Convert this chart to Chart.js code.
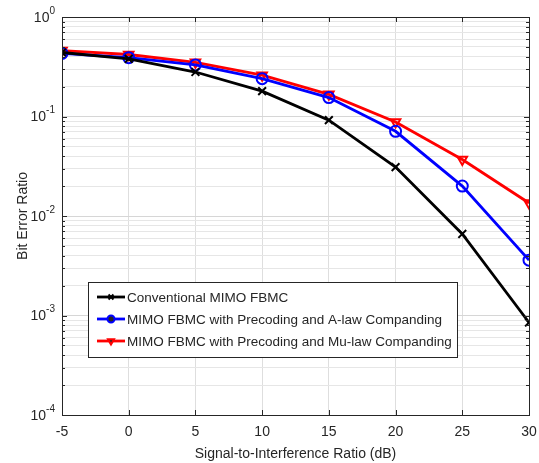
<!DOCTYPE html>
<html>
<head>
<meta charset="utf-8">
<script src="https://cdn.jsdelivr.net/npm/chart.js"></script>
<style>
    html, body { margin: 0; padding: 0; background: #fff; }
    canvas { display: block; }
</style>
</head>
<body>
<canvas id="berChart" width="539" height="463"></canvas>
<script>
var sirValues = [-5, 0, 5, 10, 15, 20, 25, 30];
var berConventional = [0.44, 0.38, 0.28, 0.18, 0.092, 0.031, 0.0066, 0.00085];
var berALaw = [0.43, 0.39, 0.33, 0.24, 0.155, 0.071, 0.020, 0.0036];
var berMuLaw = [0.46, 0.42, 0.35, 0.26, 0.167, 0.088, 0.037, 0.0135];
var yDecades = [-4, -3, -2, -1, 0];

var seriesNames = [
    'Conventional MIMO FBMC',
    'MIMO FBMC with Precoding and A-law Companding',
    'MIMO FBMC with Precoding and Mu-law Companding'
];

var FONT = '"Liberation Sans", Arial, sans-serif';
var AXIS_COLOR = '#262626';

function toPoints(values) {
    return values.map(function (v, i) { return { x: sirValues[i], y: v }; });
}

function isDecade(v) {
    var l = Math.log10(v);
    return Math.abs(l - Math.round(l)) < 1e-9;
}

// axes box, inside ticks, superscript y labels, legend in the lower-left
var matlabLook = {
    id: 'matlabLook',
    afterDraw: function (chart) {
        var ctx = chart.ctx;
        var a = chart.chartArea;
        var xs = chart.scales.x;
        var ys = chart.scales.y;
        ctx.save();

        ctx.strokeStyle = AXIS_COLOR;
        ctx.lineWidth = 1;
        ctx.beginPath();
        sirValues.forEach(function (v) {
            var px = Math.round(xs.getPixelForValue(v)) + 0.5;
            ctx.moveTo(px, a.bottom); ctx.lineTo(px, a.bottom - 5);
            ctx.moveTo(px, a.top); ctx.lineTo(px, a.top + 5);
        });
        ys.ticks.forEach(function (t) {
            var py = Math.round(ys.getPixelForValue(t.value)) + 0.5;
            var len = isDecade(t.value) ? 5 : 3;
            ctx.moveTo(a.left, py); ctx.lineTo(a.left + len, py);
            ctx.moveTo(a.right, py); ctx.lineTo(a.right - len, py);
        });
        ctx.stroke();
        ctx.strokeRect(Math.round(a.left) + 0.5, Math.round(a.top) + 0.5,
            Math.round(a.right - a.left), Math.round(a.bottom - a.top));

        // y labels 10^k
        ctx.fillStyle = AXIS_COLOR;
        ctx.textBaseline = 'middle';
        yDecades.forEach(function (k) {
            var py = ys.getPixelForValue(Math.pow(10, k));
            var right = a.left - 7;
            ctx.font = '10px ' + FONT;
            ctx.textAlign = 'right';
            var exp = String(k);
            var ew = ctx.measureText(exp).width;
            ctx.fillText(exp, right, py - 6);
            ctx.font = '14px ' + FONT;
            ctx.fillText('10', right - ew, py + 1);
        });

        // legend
        var box = { x: 88, y: 282, w: 369, h: 75 };
        ctx.fillStyle = '#ffffff';
        ctx.fillRect(box.x, box.y, box.w, box.h);
        ctx.strokeStyle = AXIS_COLOR;
        ctx.lineWidth = 1;
        ctx.strokeRect(box.x + 0.5, box.y + 0.5, box.w, box.h);
        chart.data.datasets.forEach(function (ds, i) {
            var cy = box.y + 15 + i * 22;
            ctx.strokeStyle = ds.borderColor;
            ctx.lineWidth = ds.borderWidth;
            ctx.beginPath();
            ctx.moveTo(box.x + 9, cy);
            ctx.lineTo(box.x + 37, cy);
            ctx.stroke();
            ctx.lineWidth = ds.pointBorderWidth;
            Chart.helpers.drawPoint(ctx, {
                pointStyle: ds.pointStyle,
                radius: 3.5,
                rotation: ds.pointRotation || 0,
                borderWidth: ds.pointBorderWidth
            }, box.x + 23, cy);
            ctx.fillStyle = AXIS_COLOR;
            ctx.font = '13.5px ' + FONT;
            ctx.textAlign = 'left';
            ctx.textBaseline = 'middle';
            ctx.fillText(ds.label, box.x + 39, cy + 1);
        });
        ctx.restore();
    }
};

function makeSeries(label, values, color, style, rotation) {
    return {
        label: label,
        data: toPoints(values),
        borderColor: color,
        backgroundColor: color,
        borderWidth: 2.8,
        pointStyle: style,
        pointRotation: rotation,
        pointRadius: 5.5,
        pointBorderWidth: 2,
        pointBorderColor: color,
        pointBackgroundColor: 'rgba(255,255,255,0)',
        tension: 0
    };
}

new Chart(document.getElementById('berChart'), {
    type: 'line',
    data: {
        datasets: [
            makeSeries(seriesNames[0], berConventional, '#000000', 'crossRot', 0),
            makeSeries(seriesNames[1], berALaw, '#0000ff', 'circle', 0),
            makeSeries(seriesNames[2], berMuLaw, '#ff0000', 'triangle', 180)
        ]
    },
    options: {
        responsive: false,
        animation: false,
        layout: { padding: { left: 0, right: 10, top: 17, bottom: 0 } },
        plugins: {
            legend: { display: false },
            tooltip: { enabled: false }
        },
        scales: {
            x: {
                type: 'linear',
                min: -5,
                max: 30,
                afterBuildTicks: function (scale) {
                    scale.ticks = sirValues.map(function (v) { return { value: v }; });
                },
                afterFit: function (scale) {
                    scale.height = 48;
                    scale.paddingLeft = 0;
                    scale.paddingRight = 0;
                },
                grid: { color: '#dedede', drawTicks: false, drawOnChartArea: true },
                border: { display: false },
                ticks: {
                    padding: 9,
                    color: AXIS_COLOR,
                    font: { family: FONT, size: 14 }
                },
                title: {
                    display: true,
                    text: 'Signal-to-Interference Ratio (dB)',
                    color: AXIS_COLOR,
                    font: { family: FONT, size: 14 },
                    padding: { top: 2, bottom: 0 }
                }
            },
            y: {
                type: 'logarithmic',
                min: 1e-4,
                max: 1,
                afterBuildTicks: function (scale) {
                    var t = [];
                    for (var k = -4; k < 0; k++) {
                        for (var m = 1; m <= 9; m++) {
                            t.push({ value: m * Math.pow(10, k) });
                        }
                    }
                    t.push({ value: 1 });
                    scale.ticks = t;
                },
                afterFit: function (scale) {
                    scale.width = 62;
                    scale.paddingTop = 0;
                    scale.paddingBottom = 0;
                },
                grid: {
                    drawTicks: false,
                    color: function (c) {
                        return c.tick && isDecade(c.tick.value) ? '#d6d6d6' : '#e6e6e6';
                    }
                },
                border: { display: false },
                ticks: {
                    display: false,
                    callback: function () { return ''; }
                },
                title: {
                    display: true,
                    text: 'Bit Error Ratio',
                    color: AXIS_COLOR,
                    font: { family: FONT, size: 14 },
                    padding: { top: 15, bottom: 0 }
                }
            }
        }
    },
    plugins: [matlabLook]
});
</script>
</body>
</html>
